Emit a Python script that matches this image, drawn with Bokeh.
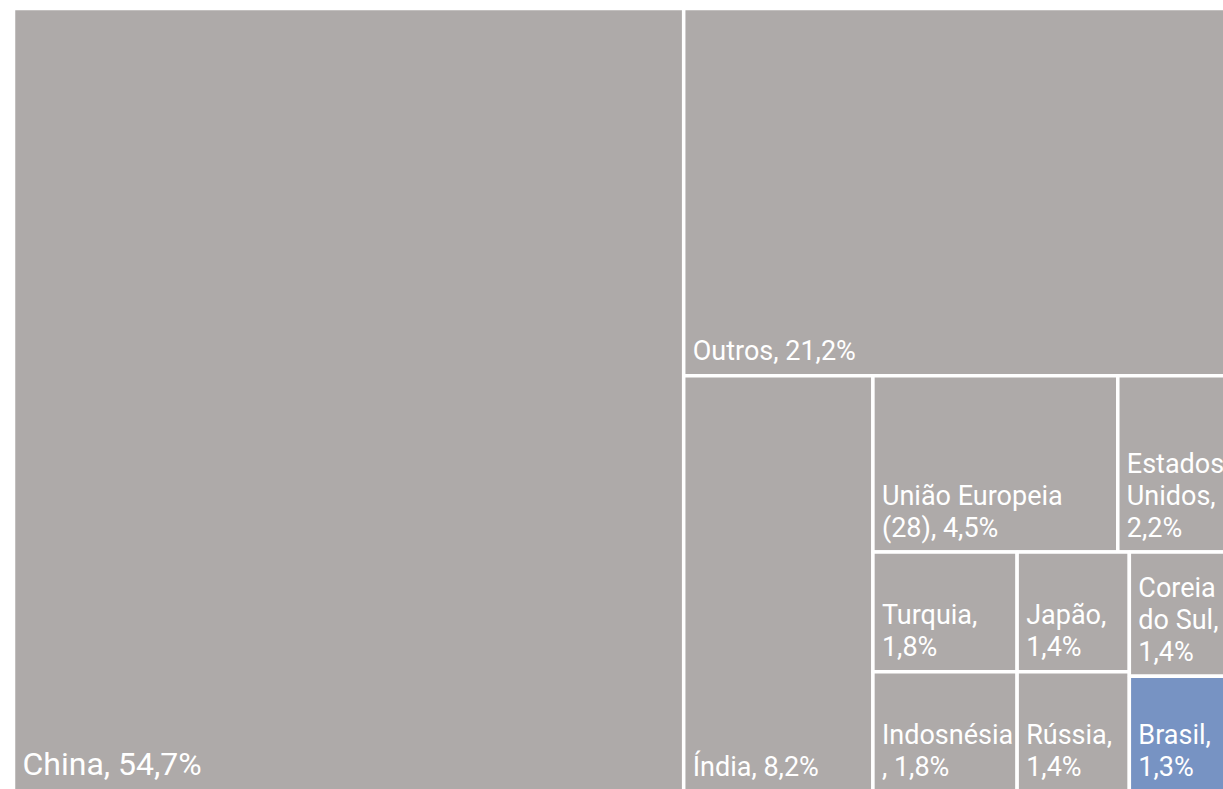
from bokeh.plotting import figure
from bokeh.models import Range1d, ColumnDataSource
from bokeh.core.properties import value
from bokeh.embed import file_html
from bokeh.resources import INLINE

# ---- data ----
names = ["China", "Outros", "Índia", "União Europeia (28)", "Estados Unidos",
         "Turquia", "Indosnésia", "Japão", "Rússia", "Coreia do Sul", "Brasil"]
shares = [54.7, 21.2, 8.2, 4.5, 2.2, 1.8, 1.8, 1.4, 1.4, 1.4, 1.3]
labels = ["China, 54,7%", "Outros, 21,2%", "Índia, 8,2%", "União Europeia\n(28), 4,5%",
          "Estados\nUnidos,\n2,2%", "Turquia,\n1,8%", "Indosnésia\n, 1,8%",
          "Japão,\n1,4%", "Rússia,\n1,4%", "Coreia\ndo Sul,\n1,4%", "Brasil,\n1,3%"]
highlight = ["Brasil"]

# treemap strip structure (orientation, member indices) -- sizes come from shares
strips = [("col", [0]), ("row", [1]), ("col", [2]), ("row", [3, 4]),
          ("col", [5, 6]), ("col", [7, 8]), ("col", [9, 10])]

GRAY = "#aeaaa9"
BLUE = "#7793c3"

# ---- layout ----
X0, Y0, W, H = 13.0, 8.0, 1224.0, 783.0
scale = W * H / sum(shares)
rects = [None] * len(shares)
x, y, w, h = X0, Y0, W, H
for orient, idx in strips:
    area = sum(shares[i] for i in idx) * scale
    if orient == "col":
        sw = area / h
        yy = y
        for i in idx:
            ih = shares[i] * scale / sw
            rects[i] = (x, x + sw, yy, yy + ih)
            yy += ih
        x += sw
        w -= sw
    else:
        sh = area / w
        xx = x
        for i in idx:
            iw = shares[i] * scale / sh
            rects[i] = (xx, xx + iw, y, y + sh)
            xx += iw
        y += sh
        h -= sh

src = ColumnDataSource(dict(
    left=[r[0] for r in rects], right=[r[1] for r in rects],
    top=[r[2] for r in rects], bottom=[r[3] for r in rects],
    color=[BLUE if n in highlight else GRAY for n in names],
    label=labels,
    tx=[r[0] + 9 for r in rects],
    ty=[r[3] - 8.5 for r in rects],
    fs=["32px" if s > 50 else "27px" for s in shares],
))

p = figure(width=1223, height=789, output_backend="svg", toolbar_location=None,
           x_range=Range1d(0, 1223), y_range=Range1d(789, 0),
           min_border=0, outline_line_color=None)
p.axis.visible = False
p.grid.visible = False
p.background_fill_color = "white"
p.border_fill_color = "white"

p.quad(left="left", right="right", top="top", bottom="bottom", source=src,
       fill_color="color", line_color="white", line_width=3.5)
p.text(x="tx", y="ty", text="label", source=src, text_align="left",
       text_baseline="bottom", text_color="white",
       text_font=value("Roboto"), text_font_size="fs", text_line_height=1.0)

open("out.html", "w").write(file_html(p, INLINE))
